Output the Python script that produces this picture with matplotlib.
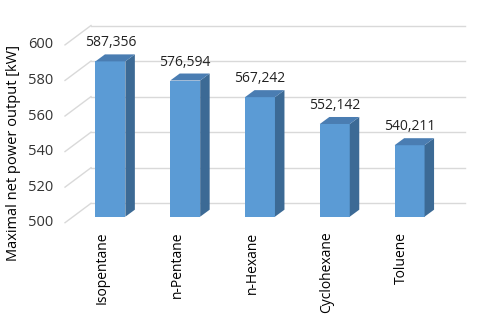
"""
Excel 스타일 3D 막대 차트 재현 (Maximal net power output)
"""
import matplotlib
matplotlib.use('Agg')
import matplotlib.pyplot as plt
from matplotlib.patches import Polygon

matplotlib.rcParams['font.family'] = ['Open Sans', 'DejaVu Sans']

# 데이터
fluids = ['Isopentane', 'n-Pentane', 'n-Hexane', 'Cyclohexane', 'Toluene']
power_kw = [587.356, 576.594, 567.242, 552.142, 540.211]
y_ticks = [500, 520, 540, 560, 580, 600]

W, H = 480, 316
fig = plt.figure(figsize=(W / 100, H / 100), dpi=100)
# 막대 앞면 평면 기준 axes
ax = fig.add_axes([73 / W, 99.3 / H, 374 / W, 177.8 / H])
ax.set_xlim(-0.5, len(fluids) - 0.5)
ax.set_ylim(500, 600)
ax.axis('off')

px_x = 374 / len(fluids)      # x 데이터 1단위당 픽셀
px_y = 177.8 / 100            # y 데이터 1단위당 픽셀


def off(dx, dy):
    """픽셀 오프셋 -> 데이터 단위"""
    return dx / px_x, dy / px_y


grid_c = '#D9D9D9'
x0, x1 = -0.5, len(fluids) - 0.5
bx, by = off(18, 13.4)     # 뒷벽 오프셋
fx, fy = off(-8, -6)       # 앞쪽 모서리 오프셋

# 뒷벽 눈금선 + 왼쪽 벽 사선
for t in y_ticks:
    ax.plot([x0 + bx, x1 + bx], [t + by, t + by], color=grid_c, lw=1, clip_on=False, zorder=1)
    ax.plot([x0 + fx, x0 + bx], [t + fy, t + by], color=grid_c, lw=1, clip_on=False, zorder=1)
    ax.text(x0 + fx - off(12, 0)[0], t + fy, str(t), ha='right', va='center',
            fontsize=10.5, color='#333333')

# 막대 (앞면, 옆면, 윗면)
bw = 0.4
dx, dy = off(9.5, 7)
for i, v in enumerate(power_kw):
    ax.bar(i, v - 500, bottom=500, width=bw, color='#5B9BD5', zorder=3, clip_on=False)
    r = i + bw / 2
    l = i - bw / 2
    ax.add_patch(Polygon([(r, 500), (r + dx, 500 + dy), (r + dx, v + dy), (r, v)],
                         closed=True, facecolor='#3C6A95', edgecolor='none', zorder=3, clip_on=False))
    ax.add_patch(Polygon([(l, v), (l + dx, v + dy), (r + dx, v + dy), (r, v)],
                         closed=True, facecolor='#4A7DB2', edgecolor='none', zorder=3, clip_on=False))
    ax.text(i, v + dy + off(0, 4)[1], f'{v:.3f}'.replace('.', ','), ha='center', va='bottom',
            fontsize=10, color='#222222')
    # 카테고리 라벨
    ax.text(i + fx, 500 + fy - off(0, 9)[1], fluids[i], rotation=90, ha='center', va='top',
            fontsize=10, color='black')

fig.text(14 / W, 0.5 + 5 / H, 'Maximal net power output [kW]', rotation=90,
         ha='center', va='center', fontsize=10.5, color='black')

fig.savefig('out.png', dpi=100, facecolor='white')
